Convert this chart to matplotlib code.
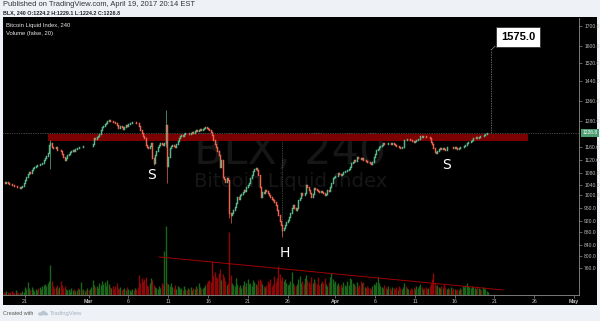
import numpy as np
import pandas as pd
import matplotlib
matplotlib.use("Agg")
import matplotlib.pyplot as plt
import matplotlib.dates as mdates
import matplotlib.transforms as mtransforms
from matplotlib.patches import Ellipse

plt.rcParams['font.family'] = ['Liberation Sans', 'DejaVu Sans']

# ---------------- data (4h candles, BLX) ----------------
FIRST_CANDLE = "2017-02-18 08:00"
START_OPEN = 1050.0
CLOSE = [
    1048, 1045, 1050, 1046, 1044, 1042,   # Feb 18
    1040, 1038, 1035, 1036, 1031, 1030,
    1028, 1033, 1036, 1045, 1058, 1066,
    1078, 1083, 1080, 1090, 1095, 1099,
    1102, 1106, 1104, 1108, 1110, 1112,
    1120, 1126, 1134, 1141, 1170, 1182,
    1163, 1158, 1157, 1160, 1153, 1151,
    1152, 1150, 1140, 1131, 1122, 1126,
    1136, 1140, 1146, 1148, 1152, 1150,
    1156, 1159, 1158, 1161, 1163, 1162,
    1165, 1167, 1164, 1168, 1166, 1166,   # Feb 28
    1168, 1175, 1201, 1198, 1206, 1212,   # Mar 1
    1222, 1238, 1255, 1260, 1266, 1270,
    1282, 1286, 1280, 1283, 1278, 1276,
    1274, 1262, 1250, 1248, 1257, 1255,
    1245, 1252, 1263, 1260, 1268, 1271,
    1274, 1278, 1276, 1279, 1274, 1272,
    1257, 1240, 1225, 1210, 1201, 1171,
    1160, 1157, 1168, 1179, 1126, 1113,
    1135, 1150, 1163, 1172, 1179, 1175,
    1171, 1181, 1263, 1103, 1130, 1157,   # Mar 10
    1165, 1171, 1168, 1163, 1175, 1190,
    1201, 1210, 1217, 1214, 1220, 1225,
    1224, 1228, 1222, 1226, 1230, 1228,
    1234, 1240, 1236, 1242, 1243, 1239,
    1245, 1248, 1252, 1250, 1245, 1240,
    1232, 1215, 1194, 1175, 1163, 1150,
    1136, 1100, 1121, 1068, 1060, 1051,
    1063, 1058, 944, 938, 945, 954,       # Mar 18
    965, 975, 996, 990, 1001, 1005,
    1014, 1020, 1018, 1030, 1039, 1045,
    1063, 1075, 1086, 1092, 1097, 1090,
    1074, 1032, 996, 1014, 1010, 1020,
    1018, 1007, 1003, 996, 990, 985,
    978, 970, 955, 938, 920, 905,
    887, 895, 905, 915, 922, 933,         # Mar 25
    945, 960, 970, 962, 954, 960,
    985, 992, 1007, 1003, 1001, 1010,
    1039, 1030, 1020, 1010, 996, 1005,
    1026, 1022, 1020, 1018, 1014, 1015,
    1014, 1008, 1001, 1005, 1020, 1018,
    1030, 1045, 1063, 1066, 1069, 1072,   # Mar 31
    1080, 1076, 1074, 1078, 1083, 1086,   # Apr 1
    1088, 1090, 1092, 1100, 1111, 1115,
    1121, 1118, 1131, 1128, 1126, 1124,
    1126, 1120, 1121, 1118, 1116, 1114,
    1111, 1109, 1115, 1131, 1140, 1152,
    1155, 1163, 1168, 1172, 1179, 1176,
    1174, 1177, 1180, 1179, 1176, 1178,
    1174, 1172, 1166, 1168, 1160, 1157,
    1160, 1163, 1194, 1192, 1197, 1199,
    1195, 1194, 1190, 1186, 1188, 1192,
    1197, 1200, 1212, 1208, 1213, 1210,
    1209, 1206, 1207, 1205, 1186, 1175,
    1157, 1146, 1141, 1150, 1154, 1157,
    1155, 1157, 1154, 1152, 1160, 1163,
    1161, 1163, 1160, 1158, 1160, 1157,
    1155, 1158, 1163, 1161, 1163, 1165,
    1170, 1179, 1183, 1186, 1190, 1195,
    1201, 1204, 1206, 1203, 1208, 1212,
    1210, 1214, 1217, 1220, 1224, 1226.8,  # Apr 19
]
# notable wicks: candle index -> (high, low)
WICKS = {35: (1194, 1094), 113: (1126, 1105), 122: (1324, 1160),
         123: (1263, 1046), 170: (1058, 930), 171: (944, 912), 210: (905, 866)}
VOLUME = [
    3, 2, 4, 3, 2, 3,   4, 3, 2, 5, 3, 2,   3, 2, 4, 3, 8, 6,
    13, 7, 5, 8, 6, 4,  6, 5, 7, 8, 6, 9,   10, 11, 9, 12, 14, 30,
    14, 9, 7, 8, 10, 6, 8, 14, 10, 7, 9, 6, 5, 6, 4, 7, 5, 6,
    4, 5, 7, 6, 13, 5,  6, 4, 5, 7, 5, 6,   8, 15, 10, 8, 9, 7,
    12, 10, 14, 11, 13, 9, 15, 11, 8, 7, 9, 6, 9, 12, 7, 6, 8, 5,
    6, 7, 5, 8, 6, 5,   4, 6, 5, 7, 6, 8,   20, 12, 17, 14, 16, 18,
    10, 9, 12, 17, 15, 10, 8, 7, 6, 9, 7, 12, 10, 44, 69, 12, 11, 9,
    12, 8, 7, 10, 6, 9, 8, 6, 7, 5, 9, 6,   5, 7, 6, 8, 5, 7,
    6, 9, 7, 12, 8, 6,  7, 8, 10, 12, 14, 15, 13, 34, 20, 23, 18, 17,
    22, 26, 15, 21, 18, 14, 10, 12, 63, 20, 12, 10, 9, 17, 11, 8, 10, 7,
    10, 14, 9, 12, 16, 11, 12, 9, 15, 13, 11, 10, 15, 16, 14, 11, 9, 8,
    10, 14, 12, 16, 9, 11, 19, 13, 17, 29, 21, 15, 18, 14, 16, 12, 10, 11,
    14, 23, 12, 10, 9, 11, 16, 19, 12, 14, 11, 17, 20, 15, 13, 11, 18, 12,
    16, 13, 11, 18, 10, 12, 14, 12, 17, 11, 9, 13, 18, 22, 16, 12, 14, 10,
    12, 9, 11, 8, 13, 10, 9, 14, 10, 17, 16, 12, 11, 9, 13, 8, 10, 14,
    12, 13, 8, 7, 9, 8, 7, 6, 9, 11, 10, 13, 18, 12, 9, 8, 7, 10,
    8, 6, 9, 7, 5, 8,   7, 6, 8, 5, 9, 7,   6, 8, 12, 9, 7, 6,
    5, 7, 6, 8, 6, 9,   7, 9, 11, 8, 6, 7,  8, 6, 7, 9, 12, 16,
    22, 12, 9, 10, 8, 7, 9, 7, 11, 8, 6, 7,  6, 8, 5, 7, 6, 5,
    6, 5, 7, 6, 9, 8,   10, 12, 9, 8, 7, 9,  8, 7, 6, 9, 7, 6,
    5, 8, 7, 6, 4, 3,
]
LAST_PRICE = 1226.8
TARGET = 1575.0
NECK_LOW, NECK_HIGH = 1190, 1222
NECK_START, NECK_END = "2017-02-23 21:00", "2017-04-25 05:00"
VOL_TREND_DATES = ["2017-03-09 20:00", "2017-04-22 02:00"]
VOL_TREND_VALUES = [38, 5]
PATTERN_LABELS = [("S", "2017-03-08 22:00", 1074), ("H", "2017-03-25 16:00", 813),
                  ("S", "2017-04-15 00:00", 1105)]
MEASURE_DATE, MEASURE_FROM, MEASURE_TO = "2017-03-25 07:00", 1190, 872
TARGET_DATE = "2017-04-20 13:30"

X_TICK_DATES = ["2017-02-21", "2017-03-01", "2017-03-06", "2017-03-11", "2017-03-16",
                "2017-03-21", "2017-03-26", "2017-04-01", "2017-04-06", "2017-04-11",
                "2017-04-16", "2017-04-21", "2017-04-26", "2017-05-01"]
X_TICK_LABELS = ["21", "Mar", "6", "11", "16", "21", "26", "Apr", "6", "11", "16",
                 "21", "26", "May"]
Y_TICKS = [760, 800, 840, 880, 920, 960, 1000, 1040, 1080, 1120, 1160,
           1280, 1360, 1440, 1520, 1600, 1700]
# price-axis scale of the chart (price -> relative screen position)
SCALE_PRICE = [660, 760, 800, 840, 880, 920, 960, 1000, 1040, 1080, 1120, 1160,
               1280, 1360, 1440, 1520, 1600, 1700, 1800]
SCALE_POS = [-297.8, -267.7, -256.3, -245, -232, -220.7, -208.3, -195.3, -184.7,
             -173.3, -160.3, -147.3, -121.3, -100.7, -80.7, -62.7, -45.7, -25.7, -5.7]

# ---------------- derived series ----------------
close = np.array(CLOSE, float)
opens = np.r_[START_OPEN, close[:-1]]
high = np.maximum(opens, close)
low = np.minimum(opens, close)
for i, (h, l) in WICKS.items():
    high[i] = max(high[i], h)
    low[i] = min(low[i], l)
dates = pd.date_range(FIRST_CANDLE, periods=len(close), freq="4h")
x = mdates.date2num(dates)
up = close >= opens
UP_C, DN_C = '#5bb58b', '#ec6450'
VUP_C, VDN_C = '#1a661a', '#8c0808'
ccol = np.where(up, UP_C, DN_C)
vcol = np.where(up, VUP_C, VDN_C)

def d(s):
    return mdates.date2num(pd.Timestamp(s))

# ---------------- figure ----------------
W, H = 600, 321
fig = plt.figure(figsize=(W / 100, H / 100), dpi=100, facecolor='#eef1f5')
def fx(px): return px / W
def fy(py): return 1 - py / H

bg = fig.add_axes([fx(3), fy(305), fx(597) - fx(3), fy(17) - fy(305)])
bg.set_facecolor('black')
bg.set_xticks([]); bg.set_yticks([])
for s in bg.spines.values():
    s.set_visible(False)

rect = [fx(3), fy(295), fx(579) - fx(3), fy(18) - fy(295)]
axv = fig.add_axes(rect)
axv.set_axis_off()
ax = fig.add_axes(rect)
ax.patch.set_visible(False)

x0 = d("2017-02-21") - 2.765
x1 = d("2017-02-21") + 69.62

# volume
axv.vlines(x, 0, VOLUME, colors=vcol, linewidth=1.0)
axv.plot([d(s) for s in VOL_TREND_DATES], VOL_TREND_VALUES, color='#a00000', lw=0.7)
axv.set_xlim(x0, x1)
axv.set_ylim(0, max(VOLUME) * 4.01)
axv.text(0.498, 0.516, "BLX, 240", transform=axv.transAxes, ha='center', va='center',
         fontsize=31, color='#161616', family='DejaVu Sans')
axv.text(0.5, 0.408, "Bitcoin Liquid Index", transform=axv.transAxes, ha='center',
         va='center', fontsize=14.2, color='#161616', family='DejaVu Sans')

# price axis with chart's scale
P = np.array(SCALE_PRICE, float)
G = np.array(SCALE_POS, float)
def fwd(v):
    return np.interp(np.asarray(v, float), P, G)
def inv(v):
    return np.interp(np.asarray(v, float), G, P)
ax.set_yscale('function', functions=(fwd, inv))
ax.set_xlim(x0, x1)
ax.set_ylim(669.3, 1738.5)

ax.axhline(LAST_PRICE, color='#808080', lw=0.5, ls=(0, (1, 1.5)), zorder=1)
ax.fill_between([d(NECK_START), d(NECK_END)], NECK_LOW, NECK_HIGH, color='#7d0000',
                lw=0, zorder=2)

ax.vlines(x, low, high, colors=ccol, linewidth=0.5, zorder=3)
ax.vlines(x, np.minimum(opens, close), np.maximum(opens, close), colors=ccol,
          linewidth=1.05, zorder=4, capstyle='projecting')

for t, ds, p in PATTERN_LABELS:
    ax.text(d(ds), p, t, color='white', fontsize=10, ha='center', va='center', zorder=6,
            family='DejaVu Sans')

ax.vlines(d(MEASURE_DATE), MEASURE_TO, MEASURE_FROM, color='#7a7a7a', lw=0.5,
          ls=(0, (1, 1.5)), zorder=2)
ax.vlines(d(TARGET_DATE), LAST_PRICE, 1580, color='#8a8a8a', lw=0.5,
          ls=(0, (2, 1.5)), zorder=5)
ax.plot([d(TARGET_DATE), d("2017-04-21 02:00")], [1580, 1598], color='#8a8a8a', lw=0.5,
        zorder=5)
ax.text(d("2017-04-23 23:00"), 1641, f"{TARGET:.1f}", fontsize=8, fontweight='bold',
        color='black', ha='center', va='center', zorder=7,
        bbox=dict(boxstyle='square,pad=0.45', fc='white', ec='#333333', lw=0.6))

# axes styling
for s in ['top', 'left']:
    ax.spines[s].set_visible(False)
for s in ['right', 'bottom']:
    ax.spines[s].set_color('#8c8c8c')
    ax.spines[s].set_linewidth(0.6)
ax.yaxis.tick_right()
ax.set_yticks(Y_TICKS)
ax.set_yticklabels([f"{v:.1f}" for v in Y_TICKS])
ax.yaxis.set_minor_locator(matplotlib.ticker.NullLocator())
ax.tick_params(axis='y', which='major', length=2.5, width=0.5, color='#8c8c8c',
               labelcolor='#bdbdbd', labelsize=3.6, pad=1.2)
ax.set_xticks([d(s) for s in X_TICK_DATES])
ax.set_xticklabels(X_TICK_LABELS)
ax.tick_params(axis='x', length=2, width=0.5, color='#8c8c8c', labelcolor='#c4c4c4',
               labelsize=3.8, pad=1.2)
for lab in ax.get_xticklabels():
    if lab.get_text() in ("Mar", "Apr", "May"):
        lab.set_fontweight('bold')

trans = mtransforms.blended_transform_factory(ax.transAxes, ax.transData)
ax.text(1.006, LAST_PRICE, f"{LAST_PRICE:.1f}", transform=trans, ha='left', va='center',
        fontsize=3.6, color='white', zorder=8,
        bbox=dict(boxstyle='square,pad=0.3', fc='#4f9d72', ec='none'))

# header / footer
fig.text(fx(3), fy(5), "Published on TradingView.com, April 19, 2017 20:14 EST",
         fontsize=5.4, color='#333333', va='center')
fig.text(fx(3), fy(12.5), "BLX, 240 O:1224.2 H:1229.1 L:1224.2 C:1226.8",
         fontsize=3.9, color='#222222', va='center', fontweight='bold')
fig.text(fx(6), fy(25), "Bitcoin Liquid Index, 240", fontsize=4.2, color='#e6e6e6',
         va='center')
fig.text(fx(6), fy(33), "Volume (false, 20)", fontsize=4.2, color='#e6e6e6', va='center')
fig.text(fx(3), fy(313.5), "Created with", fontsize=3.9, color='#555555', va='center')
for cx, cy, w, h in [(40.5, 314, 5, 3.5), (43.5, 313, 5, 4.5), (46, 314, 4, 3)]:
    fig.patches.append(Ellipse((fx(cx), fy(cy)), w / W, h / H, transform=fig.transFigure,
                               fc='#b9c6d2', ec='none'))
fig.text(fx(50), fy(313.5), "TradingView", fontsize=4.2, color='#a3b4c4', va='center')

fig.savefig("out.png", dpi=100, facecolor=fig.get_facecolor())
